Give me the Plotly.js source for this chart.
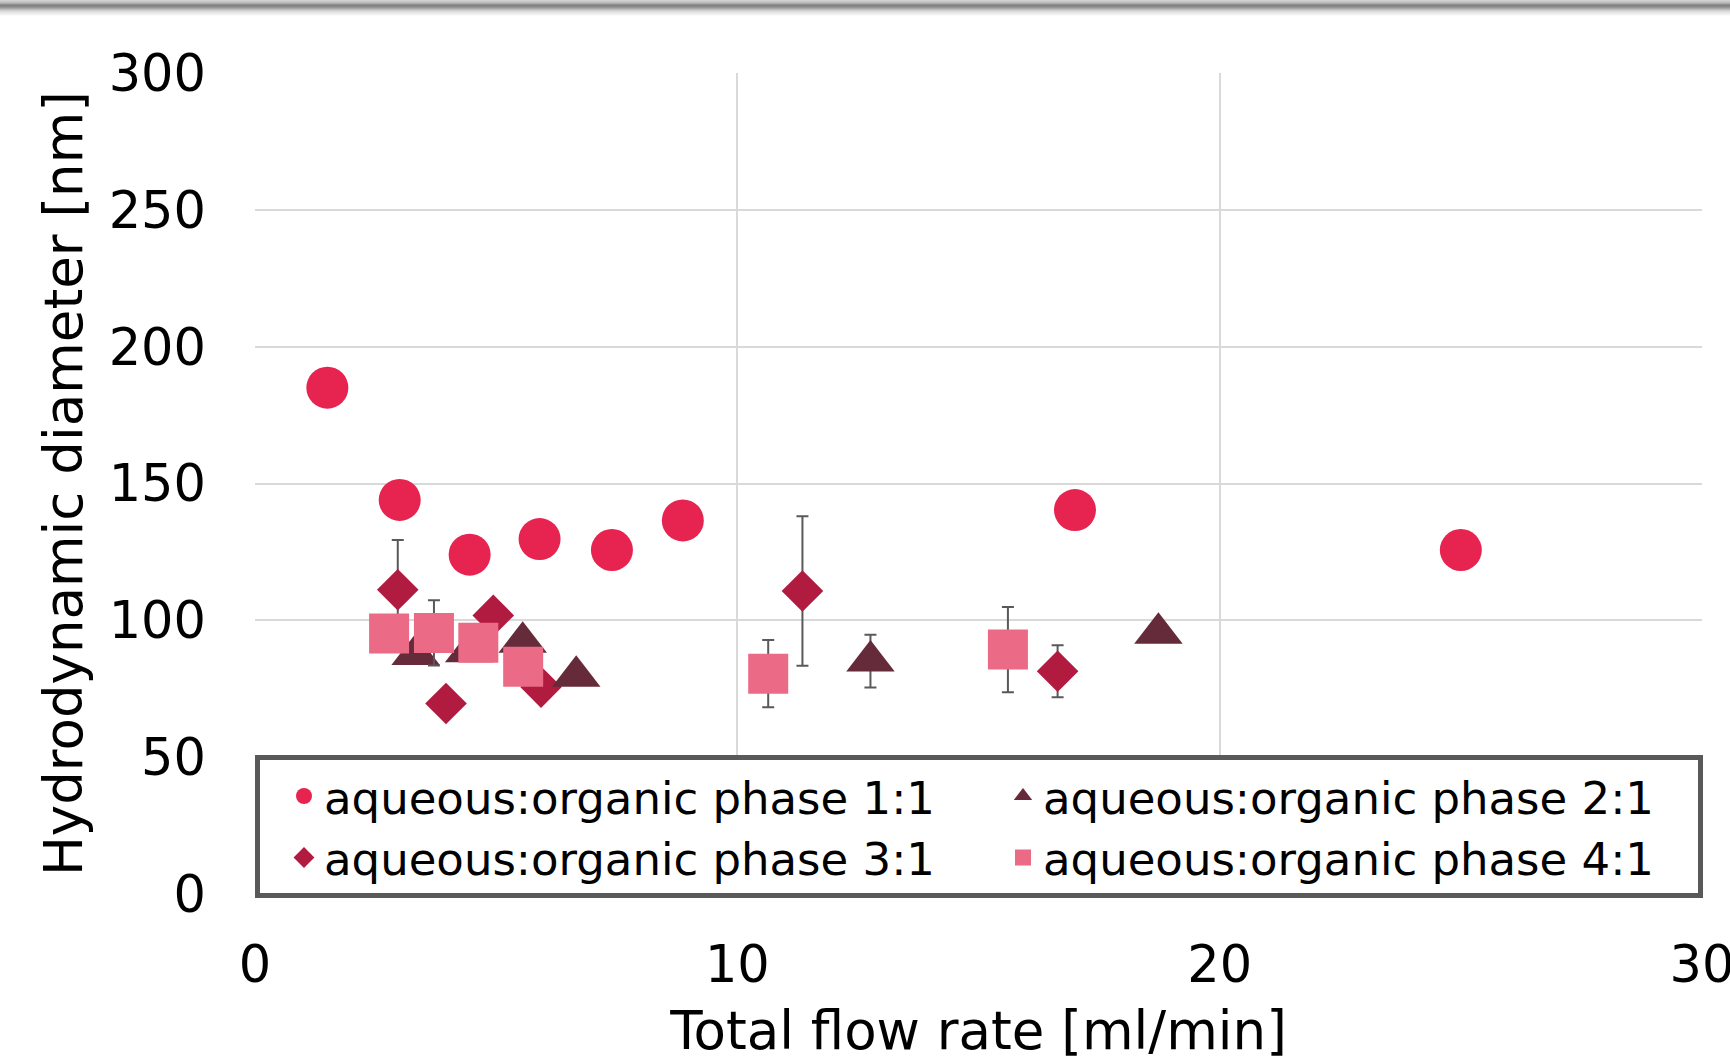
<!DOCTYPE html>
<html>
<head>
<meta charset="utf-8">
<script src="https://cdn.plot.ly/plotly-3.0.1.min.js"></script>
<style>
  html, body { margin: 0; padding: 0; background: #ffffff; }
  #wrap { position: relative; width: 1730px; height: 1061px; overflow: hidden; }
  #chart { width: 1730px; height: 1061px; }
  #topbar { position: absolute; left: 0; top: 0; width: 1730px; height: 16px; pointer-events: none;
    background: linear-gradient(to bottom, #d4d4d4 0px, #b8b8b8 3px, #7f7f7f 5px, #8c8c8c 7px, #d8d8d8 11px, #ffffff 16px); }
</style>
</head>
<body>
<div id="wrap">
  <div id="chart"></div>
  <div id="topbar"></div>
</div>
<script>
// ---- data ----
const seriesNames = [
  "aqueous:organic phase 1:1",
  "aqueous:organic phase 2:1",
  "aqueous:organic phase 3:1",
  "aqueous:organic phase 4:1"
];

// 1:1 (circles)
const flow11 = [1.5, 3.0, 4.45, 5.9, 7.4, 8.87, 17.0, 25.0];
const size11 = [185, 144, 124, 129.7, 125.7, 136.5, 140.3, 125.7];

// 2:1 (triangles)
const flow21 = [3.33, 4.44, 5.55, 6.66, 12.76, 18.73];
const size21 = [87.5, 88.5, 92, 79.6, 85.1, 95.3];
const err21  = [0, 0, 0, 0, 9.6, 0];

// 3:1 (diamonds)
const flow31 = [2.96, 3.96, 4.94, 5.93, 11.35, 16.64];
const size31 = [111.2, 69.6, 101.8, 75.6, 110.7, 81.4];
const err31  = [18.2, 0, 0, 0, 27.3, 9.5];

// 4:1 (squares)
const flow41 = [2.78, 3.71, 4.63, 5.56, 10.64, 15.61];
const size41 = [95.2, 95.4, 91.8, 83.0, 80.5, 89.3];
const err41  = [0, 11.9, 0, 0, 12.3, 15.6];

const xTicks = [0, 10, 20, 30];
const yTicks = [0, 50, 100, 150, 200, 250, 300];

const xTitle = "Total flow rate [ml/min]";
const yTitle = "Hydrodynamic diameter [nm]";

// ---- styling ----
const FONT = "'DejaVu Sans', Inter, sans-serif";
const errStyle = (arr) => ({ type: 'data', array: arr, visible: true, color: '#595959', thickness: 2, width: 6 });

const traces = [
  { x: flow11, y: size11, name: seriesNames[0], type: 'scatter', mode: 'markers', legendrank: 1,
    marker: { symbol: 'circle', size: 42, color: '#E7234F' } },
  { x: flow31, y: size31, name: seriesNames[2], type: 'scatter', mode: 'markers', legendrank: 3,
    marker: { symbol: 'diamond', size: 32, color: '#B11B3F' }, error_y: errStyle(err31) },
  { x: flow21, y: size21, name: seriesNames[1], type: 'scatter', mode: 'markers', legendrank: 2,
    marker: { symbol: 'triangle-up', size: 42, color: '#652B3A' }, error_y: errStyle(err21) },
  { x: flow41, y: size41, name: seriesNames[3], type: 'scatter', mode: 'markers', legendrank: 4,
    marker: { symbol: 'square', size: 40, color: '#EB6A86' }, error_y: errStyle(err41) }
];

const layout = {
  width: 1730, height: 1061,
  margin: { l: 255, r: 28, t: 73, b: 167 },
  paper_bgcolor: '#ffffff', plot_bgcolor: '#ffffff',
  font: { family: FONT, color: '#000000' },
  showlegend: true,
  xaxis: {
    range: [0, 30], tickvals: xTicks, ticktext: xTicks.map(String),
    showgrid: true, gridcolor: '#d9d9d9', gridwidth: 2, zeroline: false, showline: false,
    ticks: '', ticklabelstandoff: 36, ticklabeloverflow: 'allow',
    tickfont: { family: FONT, size: 51, color: '#000000' },
    title: { text: xTitle, font: { family: FONT, size: 53, color: '#000000' }, standoff: 38 },
    automargin: false, fixedrange: true
  },
  yaxis: {
    range: [0, 300], tickvals: yTicks, ticktext: yTicks.map(String),
    showgrid: true, gridcolor: '#d9d9d9', gridwidth: 2, zeroline: false, showline: false,
    ticks: '', ticklabelstandoff: 48, ticklabeloverflow: 'allow',
    tickfont: { family: FONT, size: 51, color: '#000000' },
    title: { text: yTitle, font: { family: FONT, size: 53, color: '#000000' }, standoff: 9 },
    automargin: false, fixedrange: true
  },
  legend: {
    orientation: 'h', x: 0, xanchor: 'left', y: 0.169, yanchor: 'top',
    bgcolor: '#ffffff', bordercolor: '#595959', borderwidth: 5,
    font: { family: FONT, size: 45, color: '#000000' },
    indentation: 24,
    entrywidth: 650, entrywidthmode: 'pixels',
    traceorder: 'normal', itemclick: false, itemdoubleclick: false
  }
};

Plotly.newPlot('chart', traces, layout, { displayModeBar: false, staticPlot: true });
</script>
</body>
</html>
